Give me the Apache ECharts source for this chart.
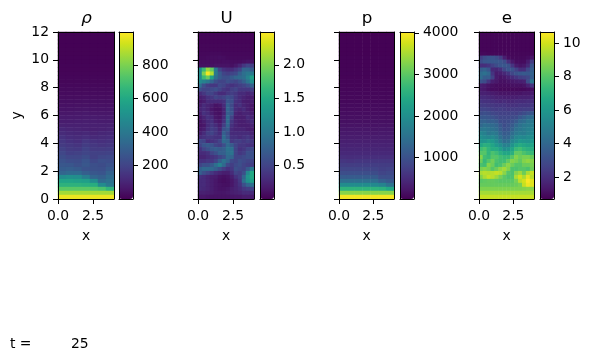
<!DOCTYPE html>
<html>
<head>
<meta charset="utf-8">
<style>html,body{margin:0;padding:0;background:#fff}#c{width:591px;height:360px}</style>
<script src="https://cdn.jsdelivr.net/npm/echarts@6/dist/echarts.min.js"></script>
</head>
<body>
<div id="c"></div>
<script>
const panelTitles = ['ρ', 'U', 'p', 'e'];
const xTicks = [0, 2.5];
const rhoTicks = [200, 400, 600, 800];
const uTicks = [0.5, 1, 1.5, 2];
const pTicks = [1000, 2000, 3000, 4000];
const eTicks = [2, 4, 6, 8, 10];
const ranges = [[1, 996], [0.002, 2.49], [0, 4020], [0.7, 10.65]];
const timeLabel = 't =';
const timeValue = '25';

const rho = [
[3,3,3,3,3,3,3],[3,3,3,3,3,3,3],[4,4,4,4,4,4,4],[4,4,4,4,4,4,4],[5,5,5,5,5,5,5],[5,5,5,5,5,5,5],
[6,6,6,6,6,6,6],[7,7,7,7,7,7,7],[8,8,8,8,8,8,8],[10,10,10,10,10,10,10],[12,12,12,12,12,12,12],
[14,14,14,14,14,14,14],[16,16,16,16,16,16,16],[20,20,20,20,20,20,20],[24,24,24,24,24,24,24],
[28,28,28,28,28,28,28],[32,32,32,33,32,32,32],[38,38,38,40,38,38,38],[44,44,45,46,44,44,44],
[50,50,52,54,50,50,50],[60,60,62,64,60,60,60],[68,68,68,72,70,68,68],[75,75,78,80,78,75,75],
[88,85,85,85,85,85,88],[105,100,95,90,85,90,95],[120,110,105,110,100,105,110],[140,125,120,130,115,120,125],
[160,140,130,160,140,135,140],[170,160,150,175,160,150,155],[190,170,165,195,170,170,175],
[210,185,190,205,190,190,195],[230,210,210,230,190,210,220],[250,235,230,260,215,240,235],
[270,265,245,270,240,230,250],[290,295,280,250,245,240,275],[320,340,340,300,270,260,310],
[480,500,490,420,320,300,340],[580,580,570,560,480,340,370],[640,640,640,630,620,480,400],
[740,740,740,740,730,710,650],[860,860,860,860,860,860,860],[970,970,970,970,970,970,970]
];

const U = [
[0.03,0.03,0.03,0.03,0.03,0.03,0.03,0.03,0.03,0.03,0.03,0.03,0.03,0.03],
[0.03,0.03,0.03,0.03,0.03,0.03,0.03,0.03,0.03,0.03,0.03,0.03,0.03,0.03],
[0.03,0.03,0.03,0.03,0.03,0.03,0.03,0.03,0.03,0.03,0.03,0.03,0.03,0.03],
[0.04,0.04,0.04,0.04,0.04,0.04,0.04,0.04,0.04,0.04,0.04,0.04,0.04,0.04],
[0.04,0.04,0.04,0.04,0.04,0.04,0.04,0.04,0.04,0.04,0.04,0.04,0.04,0.04],
[0.05,0.05,0.05,0.06,0.06,0.06,0.05,0.05,0.05,0.05,0.05,0.05,0.05,0.05],
[0.06,0.06,0.07,0.08,0.08,0.09,0.08,0.06,0.06,0.06,0.06,0.06,0.06,0.06],
[0.08,0.08,0.08,0.08,0.08,0.08,0.09,0.09,0.08,0.08,0.08,0.1,0.12,0.12],
[0.1,0.1,0.1,0.1,0.12,0.12,0.12,0.12,0.1,0.15,0.25,0.4,0.5,0.45],
[1.2,1.7,2.1,1.9,1.0,0.5,0.35,0.3,0.3,0.4,0.5,0.8,0.8,0.7],
[1.2,2.0,2.45,2.2,1.0,0.7,0.5,0.45,0.5,0.55,0.75,0.9,1.0,1.0],
[1.2,1.7,1.9,1.4,0.9,0.7,0.6,0.6,0.7,0.8,0.85,0.9,1.1,1.4],
[1.2,1.1,1.0,0.8,0.6,0.5,0.5,0.6,0.55,0.5,0.6,0.75,0.95,1.2],
[0.9,0.6,0.45,0.4,0.4,0.55,0.5,0.4,0.35,0.4,0.45,0.5,0.6,0.75],
[0.6,0.5,0.5,0.55,0.6,0.5,0.4,0.35,0.45,0.5,0.4,0.4,0.4,0.45],
[0.3,0.4,0.5,0.5,0.4,0.3,0.3,0.4,0.45,0.4,0.3,0.3,0.25,0.3],
[0.2,0.25,0.35,0.4,0.5,0.45,0.5,0.6,0.55,0.4,0.3,0.25,0.2,0.2],
[0.15,0.2,0.3,0.3,0.3,0.3,0.35,0.65,0.6,0.35,0.3,0.2,0.18,0.2],
[0.2,0.3,0.25,0.2,0.12,0.15,0.3,0.75,0.55,0.3,0.35,0.25,0.2,0.15],
[0.25,0.3,0.25,0.15,0.1,0.1,0.25,0.8,0.6,0.3,0.25,0.3,0.2,0.15],
[0.2,0.35,0.3,0.2,0.12,0.1,0.25,0.75,0.65,0.25,0.2,0.25,0.25,0.2],
[0.15,0.25,0.35,0.3,0.15,0.12,0.3,0.85,0.5,0.2,0.2,0.2,0.3,0.25],
[0.12,0.2,0.3,0.35,0.2,0.15,0.35,0.85,0.4,0.25,0.2,0.2,0.25,0.3],
[0.12,0.15,0.3,0.4,0.3,0.2,0.45,0.8,0.35,0.25,0.2,0.2,0.2,0.25],
[0.15,0.2,0.35,0.45,0.4,0.25,0.6,0.7,0.3,0.25,0.25,0.25,0.2,0.2],
[0.2,0.3,0.45,0.5,0.4,0.3,0.75,0.6,0.3,0.3,0.3,0.3,0.3,0.25],
[0.3,0.35,0.4,0.4,0.35,0.35,0.85,0.65,0.35,0.35,0.3,0.35,0.4,0.3],
[0.55,0.5,0.3,0.35,0.4,0.5,0.85,0.8,0.4,0.45,0.45,0.4,0.45,0.4],
[0.5,0.65,0.7,0.65,0.5,0.45,0.6,0.85,0.7,0.5,0.4,0.4,0.35,0.35],
[0.35,0.5,0.6,0.7,0.75,0.7,0.75,0.95,0.9,0.5,0.35,0.4,0.5,0.55],
[0.3,0.3,0.35,0.5,0.6,0.75,0.75,0.9,0.95,0.5,0.4,0.45,0.6,0.6],
[0.25,0.25,0.3,0.35,0.4,0.5,0.6,0.85,0.8,0.5,0.5,0.55,0.6,0.6],
[0.35,0.35,0.4,0.4,0.5,0.75,0.95,0.8,0.55,0.5,0.6,0.55,0.5,0.5],
[0.5,0.6,0.6,0.7,0.9,1.1,0.85,0.55,0.45,0.55,0.6,0.5,0.45,0.45],
[0.75,0.85,0.85,0.85,0.75,0.6,0.45,0.35,0.4,0.6,0.55,0.5,0.7,1.0],
[0.75,0.6,0.5,0.4,0.3,0.25,0.2,0.2,0.3,0.5,0.45,0.6,1.15,1.5],
[0.35,0.3,0.25,0.2,0.18,0.12,0.1,0.12,0.2,0.35,0.45,0.8,1.3,1.5],
[0.3,0.3,0.25,0.2,0.15,0.1,0.08,0.1,0.15,0.25,0.4,0.9,1.25,1.4],
[0.3,0.3,0.25,0.2,0.15,0.12,0.1,0.1,0.15,0.25,0.35,0.6,0.8,0.9],
[0.3,0.28,0.25,0.2,0.15,0.12,0.12,0.14,0.2,0.25,0.3,0.4,0.45,0.5],
[0.22,0.22,0.2,0.18,0.15,0.14,0.14,0.16,0.2,0.22,0.25,0.3,0.3,0.3],
[0.15,0.15,0.13,0.12,0.12,0.12,0.12,0.12,0.14,0.15,0.15,0.18,0.18,0.18]
];

const p = [
[5,5,5,5,5,5,5],[6,6,6,6,6,6,6],[8,8,8,8,8,8,8],[10,10,10,10,10,10,10],[12,12,12,12,12,12,12],[15,15,15,15,15,15,15],
[18,18,18,18,18,18,18],[20,20,20,20,20,20,20],[24,24,24,24,24,24,24],[27,27,27,27,27,27,27],[30,30,30,30,30,30,30],
[35,35,35,35,35,35,35],[40,40,40,40,40,40,40],[48,48,48,48,48,48,48],[55,55,55,55,55,55,55],[62,62,62,62,62,62,62],
[70,70,70,70,70,70,70],[80,80,80,80,80,80,80],[95,95,95,95,95,95,95],[110,110,110,110,110,110,110],[130,130,130,130,130,130,130],
[145,145,145,145,145,145,145],[160,160,160,160,160,160,160],[190,190,190,190,185,190,190],[225,225,225,225,215,220,225],
[255,255,255,255,250,255,255],[290,290,290,290,290,290,290],[330,330,330,330,330,330,330],[375,375,375,375,375,375,375],
[410,410,410,410,410,410,410],[450,450,450,450,450,450,450],[520,510,520,520,520,520,520],[620,600,620,620,620,620,620],
[720,710,720,720,720,700,700],[820,820,820,820,810,750,780],[950,950,950,950,930,820,860],[1150,1150,1150,1150,1130,950,950],
[1450,1450,1450,1450,1420,1200,1100],[1950,1950,1950,1950,1900,1800,1500],[2600,2600,2600,2600,2600,2550,2400],
[3300,3300,3300,3300,3300,3300,3300],[3950,3950,3950,3950,3950,3950,3950]
];

const e = [
[0.8,0.8,0.8,0.8,0.8,0.8,0.8,0.8,0.8,0.8,0.8,0.8,0.8,0.8],
[0.8,0.8,0.8,0.8,0.8,0.8,0.8,0.8,0.8,0.8,0.8,0.8,0.8,0.8],
[0.8,0.8,0.8,0.8,0.8,0.8,0.8,0.8,0.8,0.8,0.8,0.8,0.8,0.8],
[0.8,0.8,0.8,0.8,0.8,0.8,0.8,0.8,0.8,0.8,0.8,0.8,0.8,0.8],
[0.8,0.8,0.8,0.8,0.8,0.8,0.8,0.8,0.8,0.8,0.8,0.8,0.8,0.8],
[0.9,0.9,0.85,0.85,0.85,0.85,0.85,0.85,0.85,0.85,0.85,0.85,0.85,0.85],
[2.5,3,3.2,3.2,3,2.5,1.5,1,0.9,0.9,0.9,0.9,1.0,1.2],
[3,3.3,3.4,3.4,3.4,3.3,3,2,1.3,1,1,1,1.4,2.4],
[2,2,2.2,2.6,3,3.3,3.4,3.2,2.2,1.4,1.2,1.3,1.8,3.2],
[3.6,3.8,3.3,1.8,1.7,2,2.8,3.3,3.2,2.6,2.0,2.0,2.8,3.6],
[4.2,4.4,4,2.2,1.4,1.5,1.8,2.2,2.8,3.2,3.4,3.5,3.4,3.8],
[4.2,3.6,3.6,2.6,1.4,1.2,1.3,1.6,1.9,2.2,2.5,2.6,2.8,3.6],
[3.2,3,2.2,1.5,1.3,1.1,1.1,1.2,1.3,1.4,1.5,1.6,3.0,4.5],
[1.5,1.4,1.2,1.1,1.0,1.0,1.0,1.0,1.1,1.1,1.1,1.2,1.6,2.2],
[1.4,1.3,1.1,1,1,0.9,0.9,0.9,0.9,0.9,0.9,0.9,1.0,1.1],
[1.6,1.6,1.5,1.4,1.3,1.2,1.2,1.2,1.2,1.2,1.2,1.3,1.3,1.4],
[1.9,1.9,1.8,1.7,1.6,1.6,1.5,1.5,1.5,1.5,1.6,1.6,1.6,1.7],
[2.2,2.1,2.1,2,1.9,1.8,1.9,1.8,1.8,1.9,1.9,1.9,2,2],
[2.4,2.4,2.3,2.3,2.2,2.2,2.2,2.1,2.1,2.1,2.2,2.2,2.2,2.3],
[2.7,2.7,2.6,2.5,2.4,2.5,2.4,2.3,2.4,2.4,2.4,2.5,2.5,2.5],
[3,3.1,3,2.8,2.7,2.6,2.6,2.6,2.7,2.6,2.8,3,3.2,3.4],
[3.4,3.4,3.3,3.2,3,2.8,2.8,2.8,2.9,3,3.4,3.7,4,4.2],
[3.8,3.8,3.6,3.7,3.5,3,2.9,3,3.2,3.5,4,4.2,4.6,4.7],
[4,4.3,4.2,4.1,3.9,3.4,3,3.2,3.5,4,4.4,4.7,4.8,4.9],
[4.6,4.7,4.5,4.4,4.2,3.6,3.2,3.3,3.8,4.4,4.6,4.8,5,5.1],
[5.2,5,4.6,4.8,4.6,3.9,3.5,3.6,4.2,4.7,4.9,4.8,5.1,5.3],
[5.6,5.4,5.2,5.4,5,4.3,3.8,3.9,4.6,5.2,5.4,5.3,5.5,5.6],
[5.9,5.9,6.2,6,5.5,4.8,4.2,4.4,5.2,5.6,6,5.9,5.8,6],
[6.6,7,6.9,6.5,6,5.6,5,5,5.8,6.5,6.8,6.6,6.4,6.5],
[7.5,7.8,7.2,6.8,6.8,6.3,5.6,5.8,6.5,7.4,7.6,7.2,7,6.9],
[8,8,7.2,7.8,7.5,7,6.6,6.6,7,8.2,8.2,7.8,7.5,7.4],
[8.8,7.6,7.4,8,8,7.6,7.4,7.4,8,8.8,8.4,8.6,8.6,8.3],
[8.4,7.4,8,8.5,7.8,7.6,7.6,8.2,8.8,8.6,8.2,8.8,9,8.8],
[7.8,7.6,8.8,8.4,7.6,7.8,8.4,8.9,8.4,8,8,8.4,8.4,8.6],
[8.6,8.8,8.6,8,8.4,9,9.3,8.8,7.8,7.8,8,8,7.8,8.4],
[9.4,9.6,9.5,9.6,9.8,9.6,8.9,8,7.8,8.8,9.2,8.4,9.4,9.8],
[8.8,9.4,9.8,9.6,9.2,8.6,8.1,7.8,7.9,9.4,10,9.4,10.3,9.6],
[8.1,8.2,8.3,8.3,8.2,8.1,8.1,8.1,8.1,8.6,9.6,10,10.6,10.2],
[8.3,8.3,8.3,8.3,8.3,8.3,8.3,8.3,8.3,8.4,8.6,9.8,10.4,10.2],
[8.7,8.7,8.7,8.7,8.7,8.7,8.7,8.7,8.7,8.7,8.7,8.8,8.9,8.9],
[9.3,9.3,9.3,9.3,9.3,9.3,9.3,9.3,9.3,9.3,9.3,9.3,9.3,9.3],
[9.8,9.8,9.8,9.8,9.8,9.8,9.8,9.8,9.8,9.8,9.8,9.8,9.8,9.8]
];

const viridis = ['#440154','#481a6c','#472f7d','#414487','#39568c','#31688e','#2a788e','#23888e','#1f988b','#22a884','#35b779','#54c568','#7ad151','#a5db36','#d2e21b','#fde725'];
const fields = [rho, U, p, e];
const cbarTicks = [rhoTicks, uTicks, pTicks, eTicks];
const font = 'DejaVu Sans';
const tickSize = 13.9;
const panelLeft = [58, 198, 339, 479];
const panelWidth = [56, 56, 55, 55];
const barLeft = [119, 260, 400, 540];
const panelTop = 32, panelHeight = 167, barWidth = 14;

const axisLine = {show: true, onZero: false, lineStyle: {color: '#000', width: 1}};
const tickStyle = {show: true, length: 5, lineStyle: {color: '#000', width: 1}};
const labelStyle = {color: '#000', fontFamily: font, fontSize: tickSize};
const nameStyle = {color: '#000', fontFamily: font, fontSize: tickSize};

const option = {
  animation: false,
  backgroundColor: '#fff',
  title: panelTitles.map((t, i) => ({
    text: t, left: panelLeft[i] + panelWidth[i] / 2 - 4.5, top: 5, textAlign: 'center',
    textStyle: {color: '#000', fontFamily: font, fontSize: 16.7, fontWeight: 'normal', fontStyle: i === 0 ? 'italic' : 'normal'}
  })),
  graphic: [
    {type: 'text', left: 10, top: 337, style: {text: timeLabel, fill: '#000', font: tickSize + 'px "' + font + '"'}},
    {type: 'text', left: 71, top: 337, style: {text: timeValue, fill: '#000', font: tickSize + 'px "' + font + '"'}}
  ],
  grid: [], xAxis: [], yAxis: [], series: [], visualMap: []
};

fields.forEach((field, i) => {
  const g = i * 2;
  const rows = field.length, cols = field[0].length;
  option.grid.push({left: panelLeft[i], width: panelWidth[i], top: panelTop, height: panelHeight, containLabel: false});
  option.grid.push({left: barLeft[i], width: barWidth, top: panelTop, height: panelHeight, containLabel: false});

  option.xAxis.push({type: 'category', gridIndex: g, position: 'top', z: 5,
    data: field[0].map((_, k) => k), axisLine, axisTick: {show: false}, axisLabel: {show: false}, splitLine: {show: false}});
  option.yAxis.push({type: 'category', gridIndex: g, position: 'right', z: 5,
    data: field.map((_, k) => k), axisLine, axisTick: {show: false}, axisLabel: {show: false}, splitLine: {show: false}});
  option.xAxis.push({type: 'value', gridIndex: g, position: 'bottom', z: 5, min: 0, max: 4,
    name: 'x', nameLocation: 'middle', nameGap: 30, nameTextStyle: nameStyle,
    axisLine, axisTick: {...tickStyle, customValues: xTicks},
    axisLabel: {...labelStyle, margin: 10, customValues: xTicks, formatter: v => v.toFixed(1), showMinLabel: true, showMaxLabel: true},
    splitLine: {show: false}});
  option.yAxis.push({type: 'value', gridIndex: g, position: 'left', z: 5, min: 0, max: 12, interval: 2,
    name: i === 0 ? 'y' : '', nameLocation: 'middle', nameGap: 34, nameTextStyle: nameStyle,
    axisLine, axisTick: tickStyle,
    axisLabel: {...labelStyle, show: i === 0, margin: 9, padding: [2, 0, 0, 0]}, splitLine: {show: false}});
  option.xAxis.push({type: 'category', gridIndex: g + 1, position: 'top', z: 12, data: [0],
    axisLine, axisTick: {show: false}, axisLabel: {show: false}, splitLine: {show: false}});
  option.xAxis.push({type: 'category', gridIndex: g + 1, position: 'bottom', z: 12, data: [0],
    axisLine, axisTick: {show: false}, axisLabel: {show: false}, splitLine: {show: false}});
  option.yAxis.push({type: 'category', gridIndex: g + 1, position: 'left', z: 12, data: [0],
    axisLine, axisTick: {show: false}, axisLabel: {show: false}, splitLine: {show: false}});
  option.yAxis.push({type: 'value', gridIndex: g + 1, position: 'right', z: 12, min: ranges[i][0], max: ranges[i][1],
    axisLine, axisTick: {...tickStyle, customValues: cbarTicks[i]},
    axisLabel: {...labelStyle, margin: 9, padding: [2, 0, 0, 0], customValues: cbarTicks[i], formatter: v => i === 1 ? v.toFixed(1) : String(v)},
    splitLine: {show: false}});

  const data = [];
  for (let r = 0; r < rows; r++) for (let c = 0; c < cols; c++) data.push([c, rows - 1 - r, field[r][c]]);
  option.series.push({type: 'heatmap', xAxisIndex: i * 4, yAxisIndex: i * 4, data, z: 1, silent: true,
    progressive: 0, itemStyle: {borderWidth: 0}, emphasis: {disabled: true}});
  option.visualMap.push({type: 'continuous', seriesIndex: i, min: ranges[i][0], max: ranges[i][1],
    left: barLeft[i], top: panelTop, itemWidth: barWidth, itemHeight: panelHeight, padding: 0, calculable: false,
    text: null, hoverLink: false, z: 4, inRange: {color: viridis}});
});

echarts.init(document.getElementById('c'), null, {renderer: 'canvas'}).setOption(option);
</script>
</body>
</html>
